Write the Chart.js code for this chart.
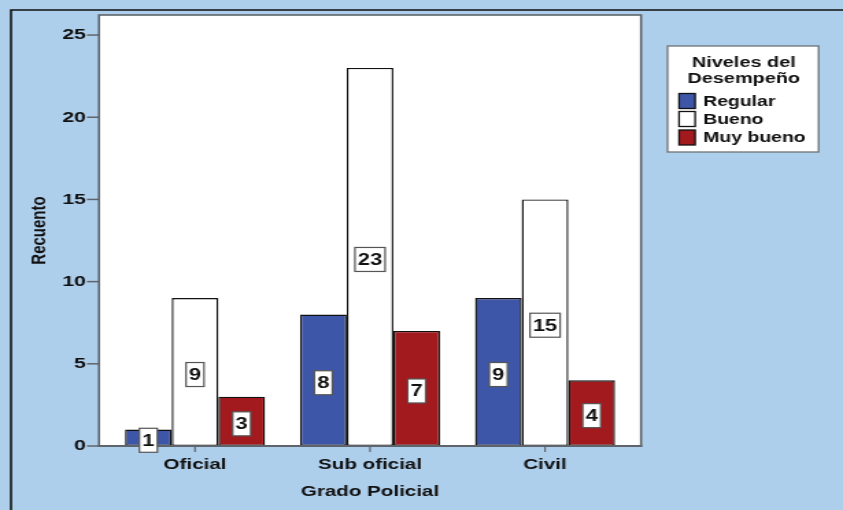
<!DOCTYPE html>
<html lang="es">
<head>
<meta charset="utf-8">
<title>Niveles del Desempeño por Grado Policial</title>
<script src="https://cdn.jsdelivr.net/npm/chart.js@4.4.1/dist/chart.umd.min.js"></script>
<style>
  html, body { margin: 0; padding: 0; background: #AECFEC; overflow: hidden; }
  /* the figure is drawn on a 615px-wide canvas and widened to 843px */
  #wrap { width: 615px; height: 510px; transform: scaleX(1.3707317); transform-origin: 0 0; }
</style>
</head>
<body>
<div id="wrap"><canvas id="chart" width="615" height="510"></canvas></div>
<script>
// Categories and counts per performance level
const categories = ['Oficial', 'Sub oficial', 'Civil'];
const regular = [1, 8, 9];
const bueno = [9, 23, 15];
const muyBueno = [3, 7, 4];
const seriesNames = ['Regular', 'Bueno', 'Muy bueno'];
const yTicks = [0, 5, 10, 15, 20, 25];
const legendTitle = ['Niveles del', 'Desempeño'];

const FONT = '"Liberation Sans", Arial, Helvetica, sans-serif';
const BG = '#AECFEC';
const AXIS = '#5E6469';

// Plot frame is a little wider than the category band
const FRAME_PAD = 6.2;

const framePlugin = {
  id: 'frame',
  beforeDraw(chart) {
    const { ctx, chartArea: a, width, height } = chart;
    ctx.save();
    ctx.fillStyle = BG;
    ctx.fillRect(0, 0, width, height);
    // outer dark border (left and top)
    ctx.strokeStyle = '#111';
    ctx.lineWidth = 1.6;
    ctx.beginPath();
    ctx.moveTo(8, height);
    ctx.lineTo(8, 10);
    ctx.lineTo(width, 10);
    ctx.stroke();
    // white plot panel
    const l = a.left - FRAME_PAD, r = a.right + FRAME_PAD;
    ctx.fillStyle = '#FFFFFF';
    ctx.fillRect(l, a.top, r - l, a.bottom - a.top);
    ctx.strokeStyle = AXIS;
    ctx.lineWidth = 1.6;
    ctx.strokeRect(l, a.top, r - l, a.bottom - a.top);
    ctx.restore();
  },
  afterDatasetsDraw(chart) {
    const { ctx, chartArea: a, scales } = chart;
    const l = a.left - FRAME_PAD, r = a.right + FRAME_PAD;
    ctx.save();
    ctx.strokeStyle = AXIS;
    ctx.lineWidth = 2;
    // x axis line
    ctx.beginPath();
    ctx.moveTo(l - 0.8, a.bottom);
    ctx.lineTo(r + 0.8, a.bottom);
    ctx.stroke();
    // y axis ticks
    ctx.lineWidth = 1.5;
    scales.y.ticks.forEach(t => {
      const y = scales.y.getPixelForValue(t.value);
      ctx.beginPath();
      ctx.moveTo(l - 8.8, y);
      ctx.lineTo(l, y);
      ctx.stroke();
    });
    // x axis ticks
    ctx.lineWidth = 1.2;
    categories.forEach((c, i) => {
      const x = scales.x.getPixelForValue(i);
      ctx.beginPath();
      ctx.moveTo(x, a.bottom);
      ctx.lineTo(x, a.bottom + 6);
      ctx.stroke();
    });
    ctx.restore();
  }
};

// Value boxes centred on each bar
const valueLabels = {
  id: 'valueLabels',
  afterDatasetsDraw(chart) {
    const { ctx } = chart;
    ctx.save();
    ctx.font = 'bold 16px ' + FONT;
    ctx.textAlign = 'center';
    ctx.textBaseline = 'middle';
    chart.data.datasets.forEach((ds, di) => {
      const meta = chart.getDatasetMeta(di);
      meta.data.forEach((bar, i) => {
        const text = String(ds.data[i]);
        const w = ctx.measureText(text).width + 4.2;
        const h = 24;
        const cx = bar.x;
        const cy = (bar.y + bar.base) / 2 + 2.5;
        ctx.fillStyle = '#FFFFFF';
        ctx.fillRect(cx - w / 2, cy - h / 2, w, h);
        ctx.strokeStyle = '#555';
        ctx.lineWidth = 1.2;
        ctx.strokeRect(cx - w / 2, cy - h / 2, w, h);
        ctx.fillStyle = '#111';
        ctx.fillText(text, cx, cy + 1);
      });
    });
    ctx.restore();
  }
};

// Boxed legend at the upper right
const boxLegend = {
  id: 'boxLegend',
  afterDraw(chart) {
    const { ctx } = chart;
    const x = 487, y = 46, w = 110.2, h = 106;
    ctx.save();
    ctx.fillStyle = '#FFFFFF';
    ctx.fillRect(x, y, w, h);
    ctx.strokeStyle = '#6E7378';
    ctx.lineWidth = 1.3;
    ctx.strokeRect(x, y, w, h);
    ctx.fillStyle = '#111';
    ctx.font = 'bold 14.5px ' + FONT;
    ctx.textAlign = 'center';
    ctx.textBaseline = 'middle';
    ctx.fillText(legendTitle[0], x + w / 2 + 0.5, 62.5);
    ctx.fillText(legendTitle[1], x + w / 2 + 0.5, 78.5);
    ctx.textAlign = 'left';
    ctx.font = 'bold 14.2px ' + FONT;
    const rows = [101, 119, 137.5];
    chart.data.datasets.forEach((ds, i) => {
      const ry = rows[i];
      ctx.fillStyle = ds.backgroundColor;
      ctx.fillRect(495.4, ry - 7.5, 11.7, 15);
      ctx.strokeStyle = '#111';
      ctx.lineWidth = 1.3;
      ctx.strokeRect(495.4, ry - 7.5, 11.7, 15);
      ctx.fillStyle = '#111';
      ctx.fillText(ds.label, 512.9, ry + 1);
    });
    ctx.restore();
  }
};

const barStyle = { borderColor: '#111111', borderWidth: 1.4, borderSkipped: false,
                   categoryPercentage: 0.8, barPercentage: 1.0 };

new Chart(document.getElementById('chart'), {
  type: 'bar',
  data: {
    labels: categories,
    datasets: [
      { label: seriesNames[0], data: regular, backgroundColor: '#3E56A8', ...barStyle },
      { label: seriesNames[1], data: bueno, backgroundColor: '#FFFFFF', ...barStyle },
      { label: seriesNames[2], data: muyBueno, backgroundColor: '#A2191E', ...barStyle }
    ]
  },
  options: {
    responsive: false,
    devicePixelRatio: 1,
    animation: false,
    layout: { autoPadding: false, padding: { left: 0, right: 153.55, top: 15, bottom: 0 } },
    plugins: { legend: { display: false }, tooltip: { enabled: false } },
    scales: {
      x: {
        offset: true,
        grid: { display: false, drawTicks: false },
        border: { display: false },
        ticks: { color: '#111', padding: 10, font: { family: FONT, size: 15, weight: 'bold' } },
        title: { display: true, text: 'Grado Policial', color: '#111',
                 padding: { top: 0, bottom: 9 }, font: { family: FONT, size: 15, weight: 'bold' } },
        afterFit(s) { s.height = 64; s.paddingLeft = 0; s.paddingRight = 0; }
      },
      y: {
        min: 0,
        max: 26.22,
        afterBuildTicks(s) { s.ticks = yTicks.map(v => ({ value: v })); },
        grid: { display: false, drawTicks: false },
        border: { display: false },
        ticks: { color: '#111', padding: 15.7, font: { family: FONT, size: 15.5, weight: 'bold' } },
        title: { display: true, text: 'Recuento', color: '#111',
                 padding: { top: 20.2, bottom: 0 }, font: { family: FONT, size: 15, weight: 'bold' } },
        afterFit(s) { s.width = 78.43; s.paddingTop = 0; s.paddingBottom = 0; }
      }
    }
  },
  plugins: [framePlugin, valueLabels, boxLegend]
});
</script>
</body>
</html>
